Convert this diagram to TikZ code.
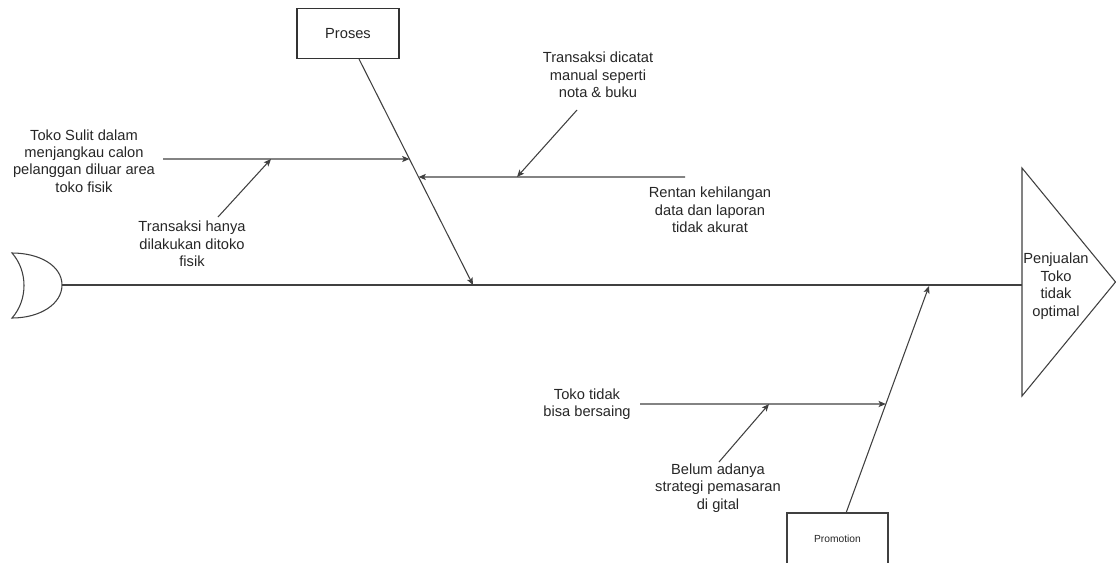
\documentclass[tikz,border=0pt]{standalone}
\usepackage{fontspec}
\setmainfont{Liberation Sans}
\usetikzlibrary{arrows.meta,calc}

\tikzset{
  bone/.style={draw=black!75, line width=0.8pt},
  arr/.style={bone, -{Stealth[length=5.5pt,width=4.6pt,inset=1.3pt]}},
  lbl/.style={align=center, text=black!85, inner sep=0pt,
              font=\fontsize{11}{13.1}\selectfont},
  catbox/.style={draw=black!80, line width=0.8pt, minimum width=76.5pt,
                 minimum height=38pt, inner sep=0pt, text=black!85,
                 font=\fontsize{11}{13.1}\selectfont},
  small/.style={text=black!85, inner sep=0pt, font=\fontsize{7.7}{9}\selectfont}
}

\begin{document}
\begin{tikzpicture}[x=0.75pt, y=-0.75pt]
  \useasboundingbox (0,0) rectangle (1116,562);

  % tail of the fish
  \draw[bone, fill=white] (12,253) .. controls (40,253) and (62,266) .. (62,285)
        .. controls (62,304) and (40,318) .. (12,318)
        .. controls (28,300) and (28,271) .. cycle;
  \coordinate (tail) at (62,285);

  % head of the fish
  \draw[bone, fill=white] (1022,168) -- (1115.5,282) -- (1022,396) -- cycle;
  \coordinate (head) at (1022,285);
  \node[lbl] (effect) at (1056,286) {Penjualan\\Toko\\tidak\\optimal};

  % spine
  \draw[bone] (tail) -- (head);

  % category: Proses
  \node[catbox] (proses) at (348,33.5) {Proses};
  \coordinate (p0) at (359,59);
  \coordinate (p1) at (473,285);
  \draw[arr] (p0) -- (p1);

  % category: Promotion (box runs off the bottom edge)
  \coordinate (m0) at (846,513);
  \coordinate (m1) at (929,286);
  \draw[bone] (787,575) -- (787,513) -- (888,513) -- (888,575);
  \node[small] (promotion) at (837.5,539) {Promotion};
  \draw[arr] (m0) -- (m1);

  % causes on the Proses bone
  \node[lbl] (c1) at (84,161) {Toko Sulit dalam\\menjangkau calon\\pelanggan diluar area\\toko fisik};
  \coordinate (c1s) at (163,159);
  \coordinate (c1e) at ($(p0)!0.4425!(p1)$);
  \draw[arr] (c1s) -- (c1e);

  \node[lbl] (s1) at (192,244) {Transaksi hanya\\dilakukan ditoko\\fisik};
  \coordinate (s1s) at (218,217);
  \coordinate (s1e) at (271,159);
  \draw[arr] (s1s) -- (s1e);

  \node[lbl] (c2) at (710,210) {Rentan kehilangan\\data dan laporan\\tidak akurat};
  \coordinate (c2s) at (685,177);
  \coordinate (c2e) at ($(p0)!0.522!(p1)$);
  \draw[arr] (c2s) -- (c2e);

  \node[lbl] (s2) at (598,75) {Transaksi dicatat\\manual seperti\\nota \& buku};
  \coordinate (s2s) at (577,110);
  \coordinate (s2e) at (517,177);
  \draw[arr] (s2s) -- (s2e);

  % causes on the Promotion bone
  \node[lbl] (c3) at (587,404) {Toko tidak\\bisa bersaing};
  \coordinate (c3s) at (640,404);
  \coordinate (c3e) at ($(m0)!0.4802!(m1)$);
  \draw[arr] (c3s) -- (c3e);

  \node[lbl] (s3) at (718,488) {Belum adanya\\strategi pemasaran\\di gital};
  \coordinate (s3s) at (719,462);
  \coordinate (s3e) at (769,404);
  \draw[arr] (s3s) -- (s3e);
\end{tikzpicture}
\end{document}
